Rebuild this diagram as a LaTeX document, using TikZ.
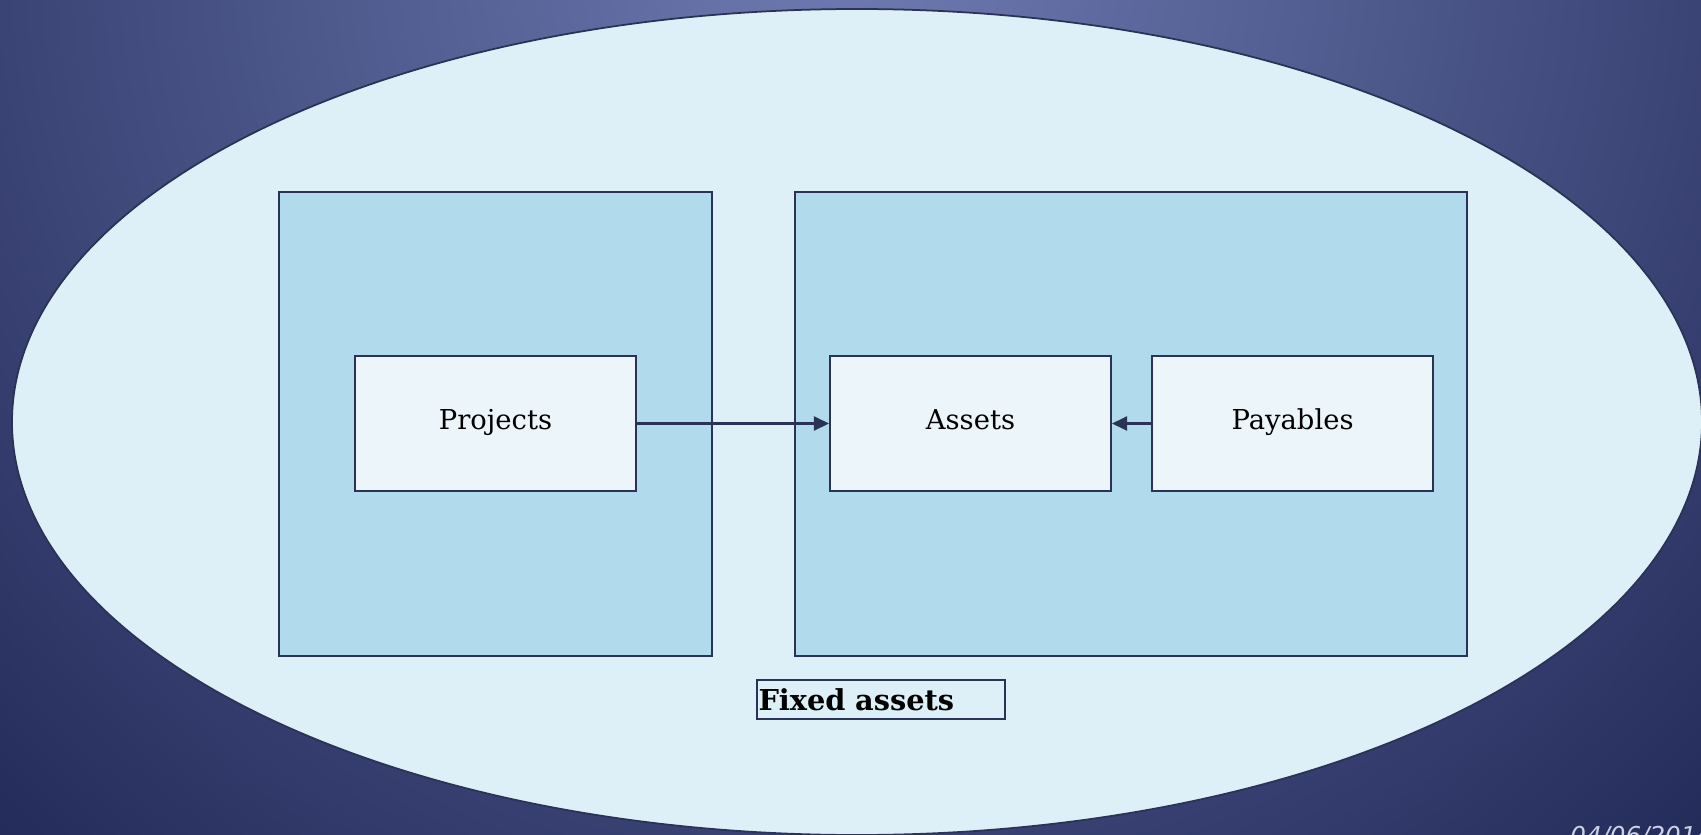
\documentclass[tikz,border=0pt]{standalone}
\usepackage{fontspec}
\setmainfont{DejaVu Serif}
\setsansfont{DejaVu Sans}
\usepackage{tikz}
\usetikzlibrary{positioning,arrows.meta}
\definecolor{slidetop}{RGB}{110,123,178}
\definecolor{slidebottom}{RGB}{34,42,88}
\definecolor{ovalfill}{RGB}{221,240,247}
\definecolor{panelfill}{RGB}{177,219,236}
\definecolor{boxfill}{RGB}{236,245,249}
\definecolor{edgecolor}{RGB}{42,51,85}
\definecolor{datecolor}{RGB}{205,210,230}
\pgfdeclareradialshading{slideglow}{\pgfpoint{0bp}{0bp}}{color(0bp)=(slidetop); color(25bp)=(slidebottom); color(50bp)=(slidebottom)}

\begin{document}
\begin{tikzpicture}[x=0.02cm, y=-0.02cm,
    panel/.style={draw=edgecolor, line width=1.2pt, fill=panelfill, minimum height=9.28cm},
    itembox/.style={draw=edgecolor, line width=1.2pt, fill=boxfill, minimum width=5.62cm, minimum height=2.7cm,
                    text height=0.73em, text depth=0pt, font=\fontsize{15.6}{18}\selectfont},
    link/.style={draw=edgecolor, line width=1.2pt, -{Triangle[length=0.3cm, width=0.28cm]}}]
    % Slide area and background
    \useasboundingbox (0,0) rectangle (1701,835);
    \clip (0,0) rectangle (1701,835);
    \shade[shading=slideglow] (-400,-1300) rectangle (2100,1200);

    % The big oval
    \draw[edgecolor, line width=1pt, fill=ovalfill] (857,422) ellipse (845 and 413);

    % Two panels
    \node[panel, minimum width=8.66cm] (left) at (495.5,424) {};
    \node[panel, minimum width=13.44cm] (right) at (1131,424) {};

    % Boxes inside the panels
    \node[itembox] (projects) at (495.5,423.5) {Projects};
    \node[itembox] (assets) at (970.5,423.5) {Assets};
    \node[itembox, right=0.78cm of assets] (payables) {Payables};

    % Arrows
    \draw[link] (projects) -- (assets);
    \draw[link] (payables) -- (assets);

    % Caption under the panels
    \node[draw=edgecolor, line width=1pt, fill=ovalfill, text width=4.9cm, align=left,
          inner xsep=1pt, inner ysep=0pt, minimum height=0.78cm,
          font=\fontsize{16.4}{18}\selectfont\bfseries] (caption) at (881,699.5) {Fixed assets};

    % Date, cut off at the bottom edge
    \node[anchor=north west, text=datecolor, inner sep=0pt, font=\sffamily\itshape\fontsize{14}{16}\selectfont] (date) at (1570,826) {04/06/2014};
\end{tikzpicture}
\end{document}
